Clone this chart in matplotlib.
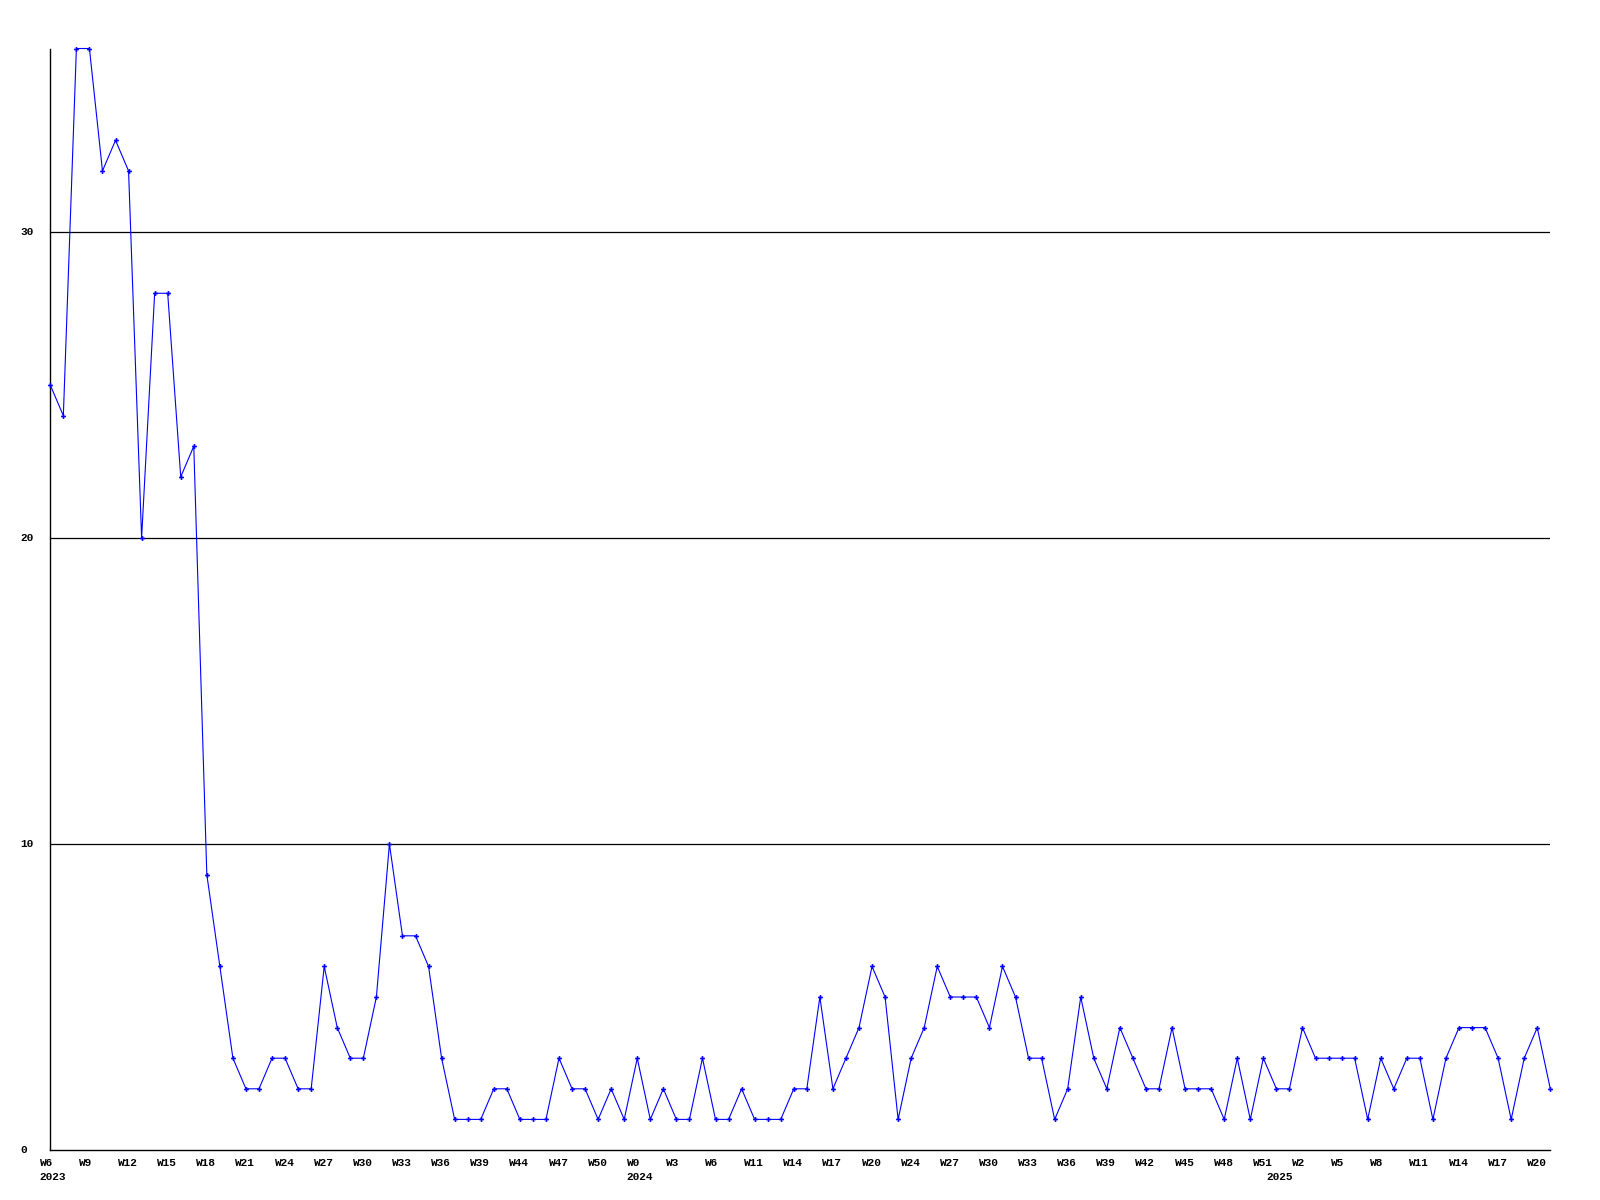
import numpy as np
import matplotlib.pyplot as plt
from matplotlib import transforms

# weekly counts, 2023 W6 .. 2025 W21
counts = [
    25, 24, 36, 36, 32, 33, 32, 20, 28, 28, 22, 23, 9, 6, 3, 2, 2, 3, 3, 2,
    2, 6, 4, 3, 3, 5, 10, 7, 7, 6, 3, 1, 1, 1, 2, 2, 1, 1, 1, 3,
    2, 2, 1, 2, 1, 3, 1, 2, 1, 1, 3, 1, 1, 2, 1, 1, 1, 2, 2, 5,
    2, 3, 4, 6, 5, 1, 3, 4, 6, 5, 5, 5, 4, 6, 5, 3, 3, 1, 2, 5,
    3, 2, 4, 3, 2, 2, 4, 2, 2, 2, 1, 3, 1, 3, 2, 2, 4, 3, 3, 3,
    3, 1, 3, 2, 3, 3, 1, 3, 4, 4, 4, 3, 1, 3, 4, 2,
]

# every third week gets a label
week_labels = [
    "W6", "W9", "W12", "W15", "W18", "W21", "W24", "W27", "W30", "W33",
    "W36", "W39", "W44", "W47", "W50", "W0", "W3", "W6", "W11", "W14",
    "W17", "W20", "W24", "W27", "W30", "W33", "W36", "W39", "W42", "W45",
    "W48", "W51", "W2", "W5", "W8", "W11", "W14", "W17", "W20",
]
years = ["2023", "2024", "2025"]
year_idx = [0, 45, 94]

y_ticks = [0, 10, 20, 30]

x = np.arange(len(counts))

W, H = 1600, 1200
fig = plt.figure(figsize=(16, 12), dpi=100)
ax = fig.add_axes([50.3 / W, 50 / H, 1500 / W, 1101.5 / H])

font = dict(family=["Liberation Mono", "DejaVu Sans Mono"], weight="bold", size=8)

for yv in y_ticks[1:]:
    ax.axhline(yv, color="black", linewidth=0.9, zorder=1)

ax.plot(x, counts, color="#0000ff", linewidth=0.8, marker="P",
        markersize=3.5, markeredgewidth=0, zorder=3, clip_on=False)

ax.set_xlim(0, len(counts) - 1)
ax.set_ylim(0, 36)

for side in ("top", "right"):
    ax.spines[side].set_visible(False)
for side in ("left", "bottom"):
    ax.spines[side].set_linewidth(1.0)
    ax.spines[side].set_color("black")

ax.set_xticks([])
ax.set_yticks([])

# y labels, left aligned at a fixed x
ytrans = transforms.blended_transform_factory(fig.transFigure, ax.transData)
for yv in y_ticks:
    ax.text(20 / W, yv, str(yv), transform=ytrans, ha="left", va="center",
            clip_on=False, **font)

# x labels, left aligned a little before each tick
xtrans = transforms.blended_transform_factory(ax.transData, fig.transFigure)
shift = transforms.ScaledTranslation(-10.5 / 100, 0, fig.dpi_scale_trans)
tick_pos = x[::3][: len(week_labels)]
for i, lab in zip(tick_pos, week_labels):
    ax.text(i, 1 - 1162.5 / H, lab, transform=xtrans + shift, ha="left",
            va="center", clip_on=False, **font)
for yr, i in zip(years, year_idx):
    ax.text(i, 1 - 1177.5 / H, yr, transform=xtrans + shift, ha="left",
            va="center", clip_on=False, **font)

fig.savefig("out.png", dpi=100)
